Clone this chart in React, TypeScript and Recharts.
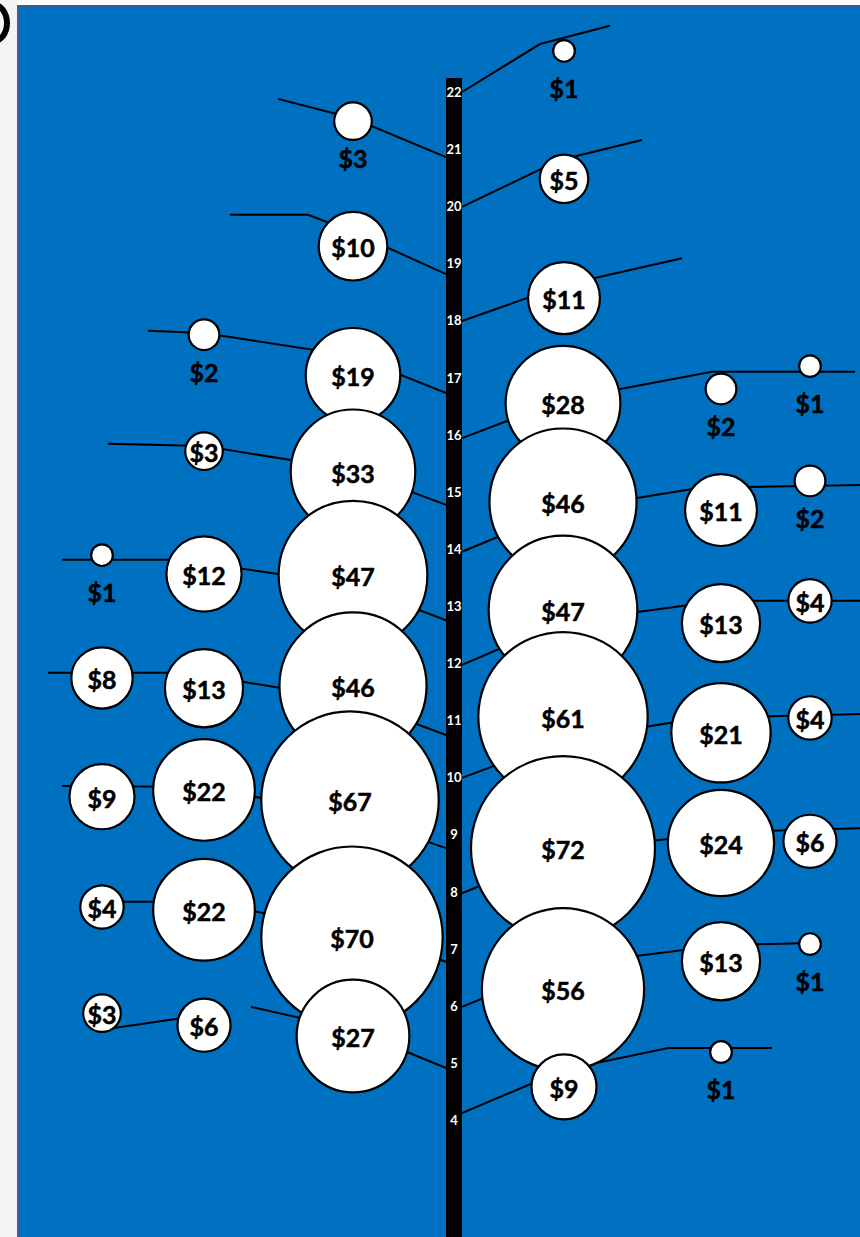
import React from 'react';
import {ScatterChart, Scatter, XAxis, YAxis, ZAxis, ReferenceArea} from 'recharts';

// levels printed on the trunk
const trunkTicks = [4, 5, 6, 7, 8, 9, 10, 11, 12, 13, 14, 15, 16, 17, 18, 19, 20, 21, 22];

// bubble amounts ($), right side first then left side, top to bottom
const bubbleValues = [
    1, 5, 11, 28, 2, 1, 46, 11, 2, 47, 13, 4, 61, 21, 4, 72, 24, 6, 56, 13, 1, 9, 1,
    3, 10, 19, 2, 33, 3, 47, 12, 1, 46, 13, 8, 67, 22, 9, 70, 22, 4, 27, 6, 3,
];
// side offset from the trunk (negative = left)
const bubbleX = [
    1.10, 1.10, 1.10, 1.09, 2.67, 3.56, 1.09, 2.67, 3.56, 1.09, 2.67, 3.56, 1.09, 2.67, 3.56,
    1.09, 2.67, 3.56, 1.09, 2.67, 3.56, 1.10, 2.67,
    -1.01, -1.01, -1.01, -2.50, -1.01, -2.50, -1.01, -2.50, -3.52, -1.01, -2.50, -3.52,
    -1.04, -2.50, -3.52, -1.02, -2.50, -3.52, -1.01, -2.50, -3.52,
];
// height on the trunk scale
const bubbleY = [
    22.72, 20.48, 18.39, 16.55, 16.80, 17.20, 14.82, 14.68, 15.19, 12.93, 12.70, 13.09,
    11.06, 10.78, 11.04, 8.76, 8.85, 8.88, 6.29, 6.78, 7.08, 4.58, 5.19,
    21.49, 19.30, 17.04, 17.75, 15.35, 15.71, 13.54, 13.56, 13.89, 11.60, 11.56, 11.74,
    9.60, 9.78, 9.66, 7.20, 7.68, 7.73, 5.47, 5.66, 5.87,
];
// bubbles whose amount is written under them
const labelBelow = [0, 4, 5, 8, 20, 22, 23, 26, 31];

// branch lines, as [offset, level] points
const branchPaths = [
    [[0.08, 22.00], [0.86, 22.84], [1.56, 23.16]],
    [[-1.76, 21.88], [-1.01, 21.54], [-0.08, 20.86]],
    [[0.08, 19.99], [1.06, 20.81], [1.88, 21.16]],
    [[-2.24, 19.85], [-1.46, 19.85], [-1.01, 19.55], [-0.08, 18.81]],
    [[0.08, 17.99], [1.10, 18.62], [2.28, 19.09]],
    [[-3.06, 17.82], [-2.50, 17.78], [-1.01, 17.38], [-0.08, 16.73]],
    [[0.08, 15.94], [1.09, 16.61], [2.58, 17.10], [4.01, 17.10]],
    [[-3.46, 15.84], [-2.50, 15.80], [-1.01, 15.38], [-0.08, 14.77]],
    [[0.08, 13.95], [1.09, 14.68], [2.46, 15.07], [4.06, 15.12]],
    [[-3.92, 13.81], [-2.74, 13.81], [-1.01, 13.37], [-0.08, 12.75]],
    [[0.08, 11.97], [1.09, 12.72], [2.67, 13.09], [4.06, 13.09]],
    [[-4.06, 11.83], [-2.64, 11.83], [-1.01, 11.35], [-0.08, 10.74]],
    [[0.08, 9.99], [1.09, 10.65], [2.46, 11.04], [4.06, 11.11]],
    [[-3.92, 9.85], [-2.50, 9.83], [-1.04, 9.34], [-0.08, 8.76]],
    [[0.08, 7.97], [1.09, 8.69], [2.67, 9.04], [4.06, 9.11]],
    [[-3.52, 7.82], [-2.50, 7.82], [-1.02, 7.33], [-0.08, 6.77]],
    [[0.08, 5.98], [1.09, 6.71], [2.67, 7.06], [3.56, 7.10]],
    [[-3.52, 5.58], [-2.50, 5.84]],
    [[-2.03, 5.98], [-1.01, 5.58], [-0.08, 4.91]],
    [[0.08, 4.12], [1.10, 4.88], [2.14, 5.26], [3.18, 5.26]],
];

const FONT = 'Lato, "Open Sans", sans-serif';

const bubbles = bubbleValues.map((value, i) => ({
    x: bubbleX[i],
    y: bubbleY[i],
    value,
    below: labelBelow.includes(i),
}));

const tickData = trunkTicks.map(t => ({x: 0, y: t}));

const Bubble = (props: any) => {
    const {cx, cy, size, width, payload} = props;
    const r = size ? Math.sqrt(size / Math.PI) : width / 2;
    return (
        <g>
            <circle cx={cx} cy={cy} r={r} fill="#fff" stroke="#000" strokeWidth={2.2}/>
            <text x={cx} y={payload.below ? cy + 37 : cy + 1} textAnchor="middle" dominantBaseline="central"
                  fontFamily={FONT} fontWeight={700} fontSize={25} fill="#000" stroke="#000" strokeWidth={0.5}>
                {'$' + payload.value}
            </text>
        </g>
    );
};

const TrunkTick = (props: any) => {
    const {cx, cy, payload} = props;
    return (
        <text x={cx} y={cy} textAnchor="middle" dominantBaseline="central"
              fontFamily={FONT} fontWeight={700} fontSize={13} fill="#fff">
            {payload.y}
        </text>
    );
};

export default function App() {
    return (
        <div style={{position: 'relative', width: 860, height: 1237, background: '#fff', overflow: 'hidden'}}>
            <style>{'body{margin:0}'}</style>
            <div style={{position: 'absolute', left: 0, top: 0, width: 17, height: 1237, background: '#f4f4f4'}}/>
            <div style={{
                position: 'absolute', left: -22, top: 2, width: 32, height: 42, boxSizing: 'border-box',
                border: '6px solid #000', borderRadius: '50%'
            }}/>
            <div style={{
                position: 'absolute', left: 17, top: 5, right: 0, bottom: 0, background: '#0070C0',
                borderLeft: '2px solid #3d5c9c', borderTop: '2px solid #3d5c9c'
            }}/>
            <div style={{position: 'absolute', left: 0, top: 0}}>
                <ScatterChart width={860} height={1237} margin={{top: 0, right: 0, bottom: 0, left: 0}}>
                    <XAxis type="number" dataKey="x" domain={[-4.54, 4.06]} allowDataOverflow hide/>
                    <YAxis type="number" dataKey="y" domain={[1.951, 23.611]} allowDataOverflow hide/>
                    <ZAxis type="number" dataKey="value" domain={[0, 72]} range={[0, Math.PI * 92 * 92]}/>
                    {branchPaths.map((path, i) => (
                        <Scatter key={`branch-${i}`} data={path.map(([x, y]) => ({x, y}))}
                                 line={{stroke: '#000', strokeWidth: 2}} lineType="joint"
                                 shape={() => <g/>} isAnimationActive={false}/>
                    ))}
                    <ReferenceArea x1={-0.08} x2={0.08} y1={1.951} y2={22.245} fill="#000" fillOpacity={1}
                                   stroke="none"/>
                    <Scatter data={bubbles} shape={Bubble} isAnimationActive={false}/>
                    <Scatter data={tickData} shape={TrunkTick} isAnimationActive={false}/>
                </ScatterChart>
            </div>
        </div>
    );
}
